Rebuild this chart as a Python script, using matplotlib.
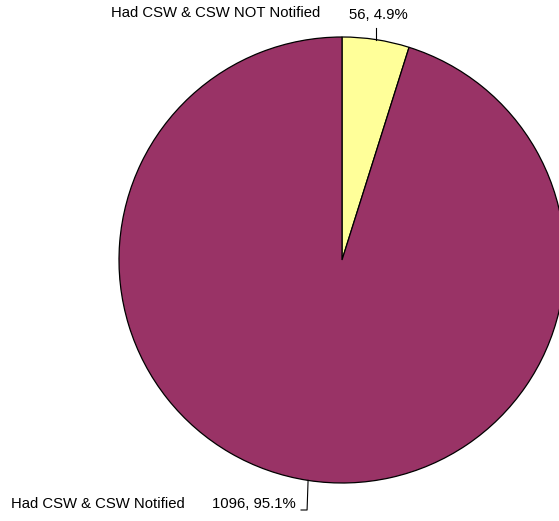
import numpy as np
import matplotlib.pyplot as plt

categories = ["Had CSW & CSW NOT Notified", "Had CSW & CSW Notified"]
counts = [56, 1096]
colors = ["#FFFF99", "#993366"]

W, H = 559, 521
fig = plt.figure(figsize=(W / 100, H / 100), dpi=100)
ax = fig.add_axes([0, 0, 1, 1])

cx, cy, r = 342, H - 260, 223
ax.pie(counts, colors=colors, startangle=90, counterclock=False,
       center=(cx, cy), radius=r, frame=True,
       wedgeprops=dict(edgecolor="black", linewidth=0.9))
ax.set_xlim(0, W)
ax.set_ylim(0, H)
ax.set_aspect("equal")
ax.axis("off")

fs = 10.7
font = "Liberation Sans"
total = sum(counts)
fracs = np.array(counts) / total
mids = 90 - 360 * (np.cumsum(fracs) - fracs / 2)

# label for the small slice, above the pie
a = np.radians(mids[0])
px, py = cx + r * np.cos(a), cy + r * np.sin(a)
ax.plot([px, px], [py, H - 28], color="black", lw=0.8)
ax.text(px + 2, H - 22, f"{counts[0]}, {fracs[0] * 100:.1f}%", ha="center",
        va="bottom", fontsize=fs, family=font)
ax.text(216, H - 13, categories[0], ha="center", va="center",
        fontsize=fs, family=font)

# label for the large slice, below the pie
a = np.radians(mids[1])
px, py = cx + r * np.cos(a), cy + r * np.sin(a)
ax.plot([px, px - 1, px - 7], [py, H - 510, H - 510], color="black", lw=0.8)
ax.text(px - 12, H - 504, f"{counts[1]}, {fracs[1] * 100:.1f}%", ha="right",
        va="center", fontsize=fs, family=font)
ax.text(11, H - 504, categories[1], ha="left", va="center",
        fontsize=fs, family=font)

fig.savefig("out.png", dpi=100)
